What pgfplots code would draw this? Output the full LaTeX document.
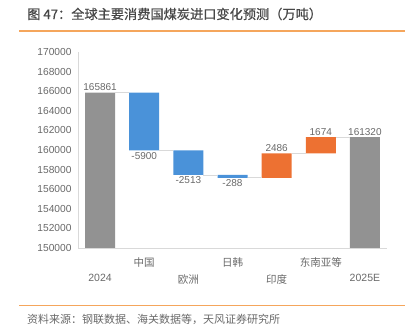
\documentclass[border=0pt]{standalone}
\usepackage{pgfplots}
\pgfplotsset{compat=1.18}
\usepackage{fontspec}
\setmainfont{Liberation Sans}
\newfontfamily\cjk{Noto Sans CJK SC}
\newfontfamily\cjkt[FakeBold=0.7]{Noto Sans CJK SC}
\definecolor{barGray}{RGB}{146,146,146}
\definecolor{barBlue}{RGB}{74,146,217}
\definecolor{barOrange}{RGB}{237,113,50}
\definecolor{txtGray}{RGB}{105,105,105}
\definecolor{lineGray}{RGB}{217,217,217}
\definecolor{hdrOrange}{RGB}{245,166,92}
\begin{document}
\begin{tikzpicture}
\path[use as bounding box] (0,0) rectangle (417pt,-328pt);
% header
\node[anchor=west, inner sep=0pt, text=black!72] at (27pt,-14pt) {\cjkt\fontsize{13.2}{15}\selectfont 图\kern3pt 47：全球主要消费国煤炭进口变化预测（万吨）};
\draw[hdrOrange, line width=1.6pt] (19pt,-31pt) -- (405pt,-31pt);
\draw[hdrOrange, line width=1.6pt] (19pt,-305.5pt) -- (405pt,-305.5pt);
\node[anchor=west, inner sep=0pt, text=txtGray] at (27pt,-319.5pt) {\cjk\fontsize{11}{13}\selectfont 资料来源：钢联数据、海关数据等，天风证券研究所};

\pgfplotsset{common/.style={
  at={(78pt,-248pt)}, anchor=south west,
  scale only axis, width=309pt, height=196pt,
  xmin=-0.5, xmax=6.5, ymin=150000, ymax=170000,
}}
\begin{axis}[common,
  ybar stacked, bar width=30pt,
  axis lines*=left,
  axis line style={lineGray, line width=0.8pt},
  axis on top,
  tick style={draw=none},
  scaled y ticks=false,
  ytick={150000,152000,154000,156000,158000,160000,162000,164000,166000,168000,170000},
  yticklabels={150000,152000,154000,156000,158000,160000,162000,164000,166000,168000,170000},
  yticklabel style={text=txtGray, font=\fontsize{10.2}{12}\selectfont, xshift=-3pt},
  xtick={0,1,2,3,4,5,6},
  xticklabels={{\strut\\[4pt]\strut 2024},{\strut\cjk 中国\\[4pt]\strut},{\strut\\[4pt]\strut\cjk 欧洲},{\strut\cjk 日韩\\[4pt]\strut},{\strut\\[4pt]\strut\cjk 印度},{\strut\cjk 东南亚等\\[4pt]\strut},{\strut\\[4pt]\strut 2025E}},
  xticklabel style={text=txtGray, align=center, font=\fontsize{10.5}{12}\selectfont, yshift=-6pt},
]
\addplot[draw=none, fill=none] coordinates {(0,0) (1,159961) (2,157448) (3,157160) (4,157160) (5,159646) (6,0)};
\addplot[draw=none, fill=barGray] coordinates {(0,165861) (1,0) (2,0) (3,0) (4,0) (5,0) (6,161320)};
\addplot[draw=none, fill=barBlue] coordinates {(0,0) (1,5900) (2,2513) (3,288) (4,0) (5,0) (6,0)};
\addplot[draw=none, fill=barOrange] coordinates {(0,0) (1,0) (2,0) (3,0) (4,2486) (5,1674) (6,0)};
\end{axis}

\begin{axis}[common, hide axis, clip=false]
% connectors
\addplot[lineGray, line width=0.9pt] coordinates {(0.34,165861) (0.66,165861)};
\addplot[lineGray, line width=0.9pt] coordinates {(1.34,159961) (1.66,159961)};
\addplot[lineGray, line width=0.9pt] coordinates {(2.34,157448) (2.66,157448)};
\addplot[lineGray, line width=0.9pt] coordinates {(3.34,157160) (3.66,157160)};
\addplot[lineGray, line width=0.9pt] coordinates {(4.34,159646) (4.66,159646)};
\addplot[lineGray, line width=0.9pt] coordinates {(5.34,161320) (5.66,161320)};
% labels
\addplot[draw=none, nodes near coords, point meta=explicit symbolic,
  nodes near coords style={anchor=south, text=txtGray, font=\fontsize{10}{12}\selectfont, inner sep=1.5pt}]
  coordinates {(0,165861)[165861] (4,159646)[2486] (5,161320)[1674] (6,161320)[161320]};
\addplot[draw=none, nodes near coords, point meta=explicit symbolic,
  nodes near coords style={anchor=north, text=txtGray, font=\fontsize{10}{12}\selectfont, inner sep=1.5pt}]
  coordinates {(1,159961)[-5900] (2,157448)[-2513] (3,157160)[-288]};
\end{axis}
\end{tikzpicture}
\end{document}
